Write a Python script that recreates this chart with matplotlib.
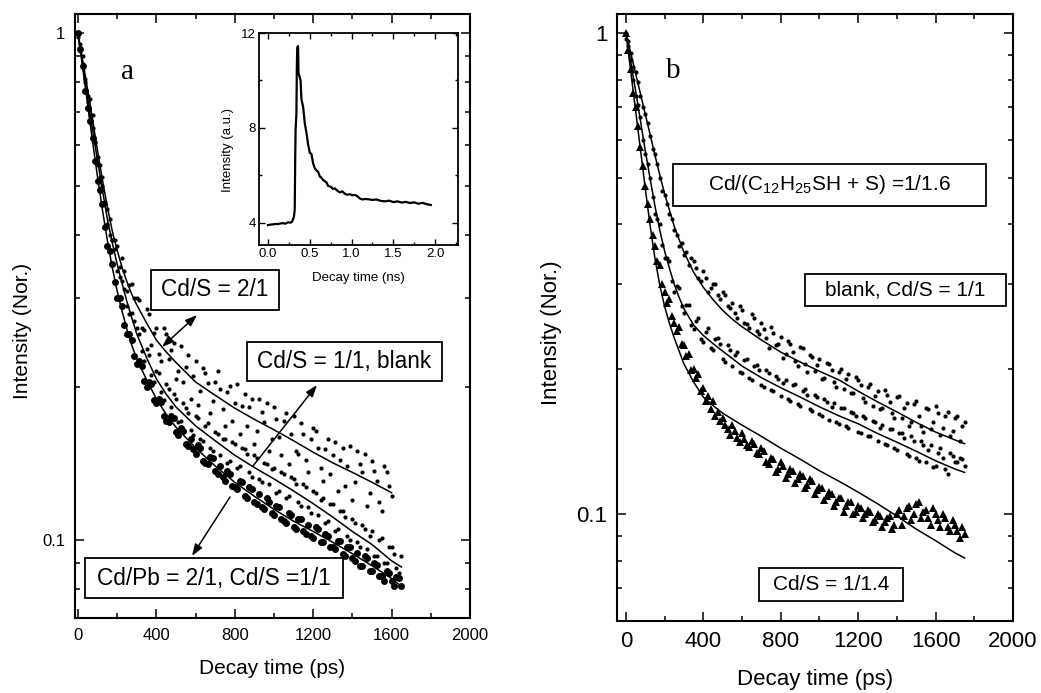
import numpy as np
import matplotlib
matplotlib.use("Agg")
import matplotlib.pyplot as plt
from matplotlib.ticker import FixedLocator, LogLocator, MultipleLocator, NullFormatter, FuncFormatter
from matplotlib.patches import Rectangle

plt.rcParams["font.family"] = ["Liberation Sans", "DejaVu Sans"]
plt.rcParams["mathtext.default"] = "regular"

# ---------------- panel a : normalized decays -----------------
# channels on the 25 ps grid and on the interleaved (12.5 ps shifted) grid
t_a21 = np.arange(0, 1601, 25)
t_a21s = np.arange(12.5, 1600, 25)
t_a = np.arange(0, 1651, 25)
t_as = np.arange(12.5, 1650, 25)

a_21 = [1.0, 0.90, 0.75, 0.69, 0.57, 0.52, 0.45, 0.39, 0.38, 0.36, 0.31, 0.32, 0.30,
        0.262, 0.285, 0.243, 0.262, 0.226, 0.255, 0.237, 0.208, 0.241, 0.219, 0.190,
        0.226, 0.197, 0.214, 0.178, 0.205, 0.199, 0.168, 0.201, 0.186, 0.162, 0.194,
        0.183, 0.155, 0.190, 0.171, 0.150, 0.183, 0.160, 0.172, 0.141, 0.176, 0.148,
        0.162, 0.136, 0.166, 0.152, 0.131, 0.158, 0.147, 0.125, 0.152, 0.140, 0.120,
        0.150, 0.136, 0.117, 0.143, 0.131, 0.114, 0.136, 0.122]
a_21s = [0.95, 0.80, 0.74, 0.61, 0.55, 0.46, 0.43, 0.39, 0.345, 0.34, 0.318, 0.30,
         0.297, 0.259, 0.279, 0.256, 0.233, 0.262, 0.228, 0.245, 0.215, 0.205, 0.232,
         0.211, 0.185, 0.218, 0.204, 0.188, 0.215, 0.181, 0.196, 0.172, 0.203, 0.184,
         0.168, 0.190, 0.164, 0.179, 0.186, 0.158, 0.173, 0.147, 0.178, 0.162, 0.150,
         0.170, 0.144, 0.158, 0.164, 0.139, 0.151, 0.135, 0.156, 0.144, 0.128, 0.153,
         0.130, 0.141, 0.148, 0.124, 0.137, 0.119, 0.140, 0.128]
a_11 = [0.98, 0.87, 0.73, 0.65, 0.55, 0.50, 0.42, 0.39, 0.34, 0.325, 0.29, 0.28, 0.262,
        0.236, 0.238, 0.212, 0.215, 0.196, 0.203, 0.183, 0.190, 0.172, 0.182, 0.165,
        0.176, 0.158, 0.168, 0.152, 0.163, 0.147, 0.158, 0.143, 0.155, 0.140, 0.151,
        0.136, 0.147, 0.132, 0.142, 0.129, 0.139, 0.125, 0.135, 0.122, 0.132, 0.119,
        0.129, 0.116, 0.125, 0.112, 0.121, 0.109, 0.118, 0.105, 0.114, 0.102, 0.110,
        0.099, 0.107, 0.096, 0.104, 0.093, 0.101, 0.090, 0.097, 0.088, 0.093]
a_11s = [0.92, 0.81, 0.69, 0.61, 0.52, 0.465, 0.40, 0.375, 0.33, 0.312, 0.279, 0.27,
         0.255, 0.226, 0.232, 0.205, 0.214, 0.189, 0.199, 0.194, 0.171, 0.186, 0.178,
         0.161, 0.174, 0.157, 0.170, 0.150, 0.162, 0.158, 0.142, 0.156, 0.139, 0.152,
         0.148, 0.133, 0.145, 0.130, 0.141, 0.138, 0.124, 0.136, 0.121, 0.133, 0.129,
         0.117, 0.127, 0.113, 0.124, 0.120, 0.108, 0.118, 0.104, 0.114, 0.111, 0.100,
         0.108, 0.097, 0.105, 0.102, 0.093, 0.100, 0.090, 0.097, 0.094, 0.086]
a_pb = [1.0, 0.86, 0.71, 0.62, 0.51, 0.46, 0.38, 0.35, 0.30, 0.29, 0.255, 0.248, 0.222,
        0.220, 0.200, 0.203, 0.186, 0.187, 0.172, 0.176, 0.163, 0.166, 0.155, 0.158,
        0.148, 0.152, 0.142, 0.146, 0.137, 0.140, 0.131, 0.135, 0.127, 0.131, 0.122,
        0.127, 0.119, 0.123, 0.115, 0.119, 0.112, 0.116, 0.109, 0.113, 0.106, 0.110,
        0.104, 0.107, 0.101, 0.105, 0.099, 0.102, 0.097, 0.0995, 0.094, 0.097, 0.092,
        0.0945, 0.089, 0.092, 0.087, 0.0895, 0.085, 0.087, 0.083, 0.0845, 0.081]
a_pbs = [0.93, 0.77, 0.67, 0.56, 0.49, 0.415, 0.372, 0.323, 0.30, 0.266, 0.255, 0.231,
         0.226, 0.206, 0.205, 0.189, 0.190, 0.176, 0.171, 0.174, 0.161, 0.164, 0.153,
         0.151, 0.154, 0.143, 0.141, 0.145, 0.135, 0.133, 0.137, 0.128, 0.126, 0.130,
         0.121, 0.126, 0.118, 0.116, 0.121, 0.113, 0.117, 0.110, 0.108, 0.112, 0.105,
         0.110, 0.103, 0.102, 0.106, 0.099, 0.103, 0.097, 0.096, 0.0995, 0.093, 0.097,
         0.091, 0.089, 0.093, 0.087, 0.090, 0.085, 0.083, 0.086, 0.081, 0.084]

# fitted decay curves, panel a
fit_a_t21 = [0, 25, 50, 75, 100, 125, 150, 175, 200, 225, 250, 275, 300, 350, 400, 450,
             500, 600, 700, 800, 900, 1000, 1100, 1200, 1300, 1400, 1500, 1600]
fit_a_21 = [1.0, 0.879, 0.771, 0.673, 0.585, 0.513, 0.454, 0.407, 0.373, 0.345, 0.323,
            0.305, 0.291, 0.268, 0.248, 0.235, 0.224, 0.205, 0.193, 0.182, 0.173, 0.165,
            0.157, 0.149, 0.142, 0.136, 0.130, 0.124]
fit_a_t = [0, 25, 50, 75, 100, 125, 150, 175, 200, 225, 250, 275, 300, 350, 400, 450,
           500, 600, 700, 800, 900, 1000, 1100, 1200, 1300, 1400, 1500, 1600, 1650]
fit_a_11 = [1.0, 0.861, 0.74, 0.643, 0.56, 0.49, 0.43, 0.386, 0.35, 0.321, 0.295, 0.274,
            0.255, 0.229, 0.208, 0.194, 0.183, 0.168, 0.157, 0.147, 0.139, 0.132, 0.125,
            0.118, 0.111, 0.104, 0.098, 0.091, 0.0885]
fit_a_pb = [1.0, 0.85, 0.72, 0.61, 0.52, 0.448, 0.39, 0.345, 0.31, 0.283, 0.26, 0.242,
            0.228, 0.207, 0.19, 0.177, 0.167, 0.152, 0.140, 0.130, 0.122, 0.115, 0.109,
            0.104, 0.099, 0.094, 0.089, 0.084, 0.081]

# ---------------- inset : raw decay -----------------
t_ns = [0.00, 0.03, 0.06, 0.09, 0.12, 0.15, 0.18, 0.21, 0.24, 0.27, 0.29, 0.31, 0.32,
        0.325, 0.33, 0.34, 0.345, 0.35, 0.36, 0.365, 0.375, 0.39, 0.40, 0.42, 0.44, 0.46,
        0.48, 0.50, 0.52, 0.54, 0.56, 0.58, 0.60, 0.62, 0.64, 0.66, 0.68, 0.70, 0.72,
        0.75, 0.78, 0.80, 0.83, 0.86, 0.89, 0.92, 0.95, 0.98, 1.01, 1.04, 1.07, 1.10,
        1.13, 1.16, 1.20, 1.25, 1.30, 1.35, 1.40, 1.45, 1.50, 1.55, 1.60, 1.65, 1.70,
        1.75, 1.80, 1.85, 1.90, 1.95]
raw_int = [3.90, 3.92, 3.93, 3.95, 3.94, 3.97, 3.98, 3.96, 4.02, 4.00, 4.05, 4.25, 4.55,
           6.5, 7.9, 8.6, 10.5, 11.4, 11.45, 10.3, 10.2, 10.0, 9.2, 8.9, 8.2, 7.8, 7.3,
           6.95, 6.9, 6.5, 6.3, 6.2, 6.15, 5.95, 5.9, 5.8, 5.75, 5.7, 5.55, 5.52, 5.42,
           5.45, 5.35, 5.28, 5.32, 5.22, 5.18, 5.20, 5.16, 5.17, 5.12, 5.02, 4.98, 5.00,
           4.99, 4.96, 4.98, 4.92, 4.90, 4.93, 4.87, 4.90, 4.85, 4.88, 4.83, 4.86, 4.80,
           4.84, 4.78, 4.75]

# ---------------- panel b : normalized decays -----------------
t_b = np.arange(0, 1751, 25)
t_bs = np.arange(12.5, 1750, 25)

b_16 = [1.0, 0.91, 0.83, 0.74, 0.68, 0.61, 0.56, 0.50, 0.46, 0.42, 0.39, 0.36, 0.345,
        0.33, 0.335, 0.31, 0.32, 0.29, 0.30, 0.285, 0.29, 0.27, 0.275, 0.255, 0.265,
        0.248, 0.26, 0.24, 0.25, 0.232, 0.245, 0.225, 0.233, 0.215, 0.226, 0.208, 0.222,
        0.205, 0.214, 0.198, 0.21, 0.192, 0.205, 0.188, 0.197, 0.182, 0.195, 0.178, 0.19,
        0.174, 0.184, 0.168, 0.18, 0.166, 0.177, 0.162, 0.175, 0.158, 0.17, 0.155, 0.172,
        0.152, 0.166, 0.150, 0.168, 0.146, 0.16, 0.145, 0.158, 0.142, 0.155]
b_16s = [0.96, 0.85, 0.79, 0.70, 0.65, 0.575, 0.535, 0.47, 0.44, 0.41, 0.38, 0.365,
         0.35, 0.34, 0.325, 0.305, 0.31, 0.295, 0.30, 0.28, 0.285, 0.268, 0.262, 0.27,
         0.25, 0.244, 0.255, 0.237, 0.242, 0.221, 0.238, 0.226, 0.211, 0.229, 0.217,
         0.203, 0.221, 0.197, 0.212, 0.204, 0.191, 0.206, 0.199, 0.184, 0.200, 0.191,
         0.178, 0.193, 0.185, 0.171, 0.186, 0.176, 0.165, 0.181, 0.171, 0.158, 0.176,
         0.166, 0.152, 0.169, 0.160, 0.148, 0.165, 0.155, 0.162, 0.151, 0.163, 0.149,
         0.160, 0.152]
b_11 = [0.97, 0.88, 0.74, 0.67, 0.56, 0.50, 0.42, 0.40, 0.34, 0.335, 0.29, 0.295, 0.262,
        0.272, 0.242, 0.255, 0.228, 0.243, 0.219, 0.232, 0.210, 0.225, 0.203, 0.217,
        0.196, 0.210, 0.190, 0.204, 0.185, 0.199, 0.181, 0.194, 0.176, 0.190, 0.172,
        0.186, 0.168, 0.182, 0.165, 0.177, 0.161, 0.173, 0.157, 0.170, 0.154, 0.166,
        0.151, 0.162, 0.148, 0.160, 0.145, 0.156, 0.142, 0.153, 0.139, 0.150, 0.136,
        0.147, 0.133, 0.145, 0.131, 0.142, 0.128, 0.139, 0.126, 0.137, 0.124, 0.134,
        0.128, 0.131, 0.126]
b_11s = [0.94, 0.80, 0.71, 0.60, 0.535, 0.455, 0.41, 0.362, 0.34, 0.305, 0.298, 0.27,
         0.272, 0.247, 0.252, 0.231, 0.239, 0.221, 0.231, 0.226, 0.207, 0.219, 0.214,
         0.197, 0.209, 0.192, 0.203, 0.199, 0.184, 0.196, 0.180, 0.191, 0.187, 0.173,
         0.185, 0.169, 0.180, 0.177, 0.164, 0.175, 0.160, 0.171, 0.167, 0.155, 0.166,
         0.152, 0.163, 0.160, 0.147, 0.158, 0.145, 0.155, 0.151, 0.140, 0.150, 0.137,
         0.147, 0.144, 0.132, 0.142, 0.129, 0.139, 0.136, 0.125, 0.134, 0.131, 0.121,
         0.132, 0.128, 0.130]
b_14 = [1.0, 0.84, 0.70, 0.58, 0.48, 0.41, 0.36, 0.33, 0.29, 0.28, 0.25, 0.245, 0.225,
        0.215, 0.20, 0.195, 0.183, 0.176, 0.172, 0.163, 0.158, 0.150, 0.153, 0.144,
        0.147, 0.139, 0.142, 0.134, 0.137, 0.128, 0.131, 0.122, 0.128, 0.119, 0.124,
        0.116, 0.121, 0.113, 0.118, 0.110, 0.114, 0.107, 0.111, 0.104, 0.108, 0.101,
        0.106, 0.100, 0.104, 0.098, 0.102, 0.096, 0.100, 0.094, 0.098, 0.093, 0.100,
        0.095, 0.103, 0.097, 0.105, 0.098, 0.102, 0.095, 0.100, 0.094, 0.098, 0.092,
        0.095, 0.089, 0.091]
b_14s = [0.92, 0.75, 0.64, 0.53, 0.44, 0.38, 0.335, 0.30, 0.275, 0.258, 0.24, 0.226,
         0.213, 0.199, 0.192, 0.180, 0.172, 0.165, 0.160, 0.156, 0.153, 0.146, 0.149,
         0.141, 0.143, 0.138, 0.140, 0.133, 0.135, 0.127, 0.130, 0.124, 0.126, 0.121,
         0.123, 0.118, 0.120, 0.115, 0.117, 0.112, 0.113, 0.109, 0.110, 0.106, 0.108,
         0.104, 0.106, 0.101, 0.103, 0.100, 0.101, 0.097, 0.099, 0.096, 0.099, 0.095,
         0.102, 0.099, 0.104, 0.100, 0.106, 0.101, 0.098, 0.103, 0.097, 0.100, 0.094,
         0.097, 0.092, 0.094]

# fitted decay curves, panel b
fit_b_t = [0, 25, 50, 75, 100, 125, 150, 175, 200, 225, 250, 275, 300, 350, 400, 450,
           500, 550, 600, 700, 800, 900, 1000, 1100, 1200, 1300, 1400, 1500, 1600, 1700,
           1750]
fit_b_16 = [1.0, 0.908, 0.824, 0.748, 0.678, 0.615, 0.557, 0.507, 0.463, 0.428, 0.396,
            0.372, 0.35, 0.318, 0.296, 0.279, 0.265, 0.254, 0.245, 0.23, 0.217, 0.207,
            0.198, 0.19, 0.18, 0.171, 0.163, 0.155, 0.148, 0.1425, 0.140]
fit_b_11 = [1.0, 0.871, 0.759, 0.658, 0.569, 0.498, 0.437, 0.389, 0.352, 0.324, 0.30,
            0.282, 0.267, 0.247, 0.235, 0.226, 0.218, 0.2104, 0.203, 0.192, 0.183, 0.175,
            0.167, 0.160, 0.154, 0.147, 0.141, 0.135, 0.129, 0.124, 0.122]
fit_b_14 = [1.0, 0.832, 0.69, 0.573, 0.475, 0.398, 0.34, 0.299, 0.27, 0.249, 0.232,
            0.218, 0.205, 0.188, 0.175, 0.168, 0.162, 0.1574, 0.153, 0.145, 0.137, 0.130,
            0.123, 0.117, 0.111, 0.105, 0.099, 0.093, 0.088, 0.083, 0.081]

# ---------------- figure -----------------
W, H = 1041, 693
fig = plt.figure(figsize=(W / 100, H / 100), dpi=100)


def fxy(x, y):
    return (x / W, 1 - y / H)


axa = fig.add_axes([75 / W, 1 - 618 / H, 395 / W, 604 / H])
axb = fig.add_axes([617 / W, 1 - 621 / H, 396 / W, 607 / H])
axi = fig.add_axes([259 / W, 1 - 245 / H, 199 / W, 212 / H])


def style_main(ax, fs, pad):
    ax.set_yscale("log")
    ax.xaxis.set_major_locator(MultipleLocator(400))
    ax.xaxis.set_minor_locator(MultipleLocator(200))
    ax.yaxis.set_major_locator(FixedLocator([0.1, 1]))
    ax.yaxis.set_minor_locator(LogLocator(base=10, subs=np.arange(2, 10)))
    ax.yaxis.set_major_formatter(FuncFormatter(lambda v, p: f"{v:g}"))
    ax.yaxis.set_minor_formatter(NullFormatter())
    ax.tick_params(which="both", direction="in", top=True, right=True, width=1.1,
                   labelsize=fs, pad=pad)
    ax.tick_params(which="major", length=6.5)
    ax.tick_params(which="minor", length=3.3)
    for s in ax.spines.values():
        s.set_linewidth(1.5)


dot = dict(color="black", mew=0, ls="none")

# panel a
axa.plot(t_a21, a_21, "o", ms=3.0, **dot)
axa.plot(t_a21s, a_21s, "o", ms=3.0, **dot)
axa.plot(t_a, a_11, "o", ms=3.0, **dot)
axa.plot(t_as, a_11s, "o", ms=3.0, **dot)
axa.plot(t_a, a_pb, "o", ms=5.0, **dot)
axa.plot(t_as, a_pbs, "o", ms=5.0, **dot)
axa.plot(fit_a_t21, fit_a_21, color="black", lw=1.1)
axa.plot(fit_a_t, fit_a_11, color="black", lw=1.1)
axa.plot(fit_a_t, fit_a_pb, color="black", lw=1.1)
axa.set_xlim(-15, 2000)
axa.set_ylim(0.0702, 1.09)
style_main(axa, 12, 7)
axa.set_xlabel("Decay time (ps)", fontsize=15, va="center")
axa.set_ylabel("Intensity (Nor.)", fontsize=15, va="center")
axa.xaxis.set_label_coords(0.5, -0.0844)
axa.yaxis.set_label_coords(-0.134, 0.475)
axa.text(128 / W, 1 - 79 / H, "a", transform=fig.transFigure, ha="center",
         va="baseline", fontsize=21, family="Liberation Serif")

# panel b
axb.plot(t_b, b_16, "o", ms=3.0, **dot)
axb.plot(t_bs, b_16s, "o", ms=3.0, **dot)
axb.plot(t_b, b_11, "o", ms=3.0, **dot)
axb.plot(t_bs, b_11s, "o", ms=3.0, **dot)
axb.plot(t_b, b_14, "^", ms=5.8, **dot)
axb.plot(t_bs, b_14s, "^", ms=5.8, **dot)
axb.plot(fit_b_t, fit_b_16, color="black", lw=1.1)
axb.plot(fit_b_t, fit_b_11, color="black", lw=1.1)
axb.plot(fit_b_t, fit_b_14, color="black", lw=1.1)
axb.set_xlim(-46, 2000)
axb.set_ylim(0.0599, 1.095)
style_main(axb, 16, 7)
axb.set_xlabel("Decay time (ps)", fontsize=16, va="center")
axb.set_ylabel("Intensity (Nor.)", fontsize=16, va="center")
axb.xaxis.set_label_coords(0.5, -0.097)
axb.yaxis.set_label_coords(-0.165, 0.475)
axb.text(673 / W, 1 - 78 / H, "b", transform=fig.transFigure, ha="center",
         va="baseline", fontsize=21, family="Liberation Serif")

# inset
axi.plot(t_ns, raw_int, color="black", lw=1.6)
axi.set_xlim(-0.108, 2.275)
axi.set_ylim(3.06, 12)
axi.xaxis.set_major_locator(MultipleLocator(0.5))
axi.xaxis.set_minor_locator(MultipleLocator(0.25))
axi.yaxis.set_major_locator(MultipleLocator(4))
axi.yaxis.set_minor_locator(MultipleLocator(2))
axi.xaxis.set_major_formatter(FuncFormatter(lambda v, p: f"{v:.1f}"))
axi.yaxis.set_major_formatter(FuncFormatter(lambda v, p: f"{v:g}"))
axi.tick_params(which="both", direction="in", top=True, right=True, width=1.0,
                labelsize=9.5, pad=2)
axi.tick_params(which="major", length=4)
axi.tick_params(which="minor", length=2.5)
for s in axi.spines.values():
    s.set_linewidth(1.3)
axi.set_xlabel("Decay time (ns)", fontsize=9.5, va="center")
axi.set_ylabel("Intensity (a.u.)", fontsize=9.5, va="center")
axi.xaxis.set_label_coords(0.5, -0.156)
axi.yaxis.set_label_coords(-0.158, 0.448)

# labelled boxes (pixel extents) and arrows
boxes = [
    ("Cd/S = 2/1", (151, 270, 279, 310), 16.3),
    ("Cd/S = 1/1, blank", (247, 342, 442, 381), 16.3),
    ("Cd/Pb = 2/1, Cd/S =1/1", (85, 558, 343, 598), 16.3),
    ("Cd/(C$_{12}$H$_{25}$SH + S) =1/1.6", (673, 164, 986, 206), 15),
    ("blank, Cd/S = 1/1", (805, 274, 1006, 306), 15),
    ("Cd/S = 1/1.4", (759, 568, 903, 601), 15),
]
for label, (x0, y0, x1, y1), fs in boxes:
    fig.patches.append(Rectangle(fxy(x0, y1), (x1 - x0) / W, (y1 - y0) / H,
                                 transform=fig.transFigure, fill=False,
                                 edgecolor="black", lw=1.3, zorder=5))
    fig.text((x0 + x1) / 2 / W, 1 - (y0 + y1) / 2 / H, label, ha="center",
             va="center", fontsize=fs, zorder=6)

arrows = [
    ((162, 347), (197, 315), "<|-|>"),
    ((253, 466), (317, 385), "-|>"),
    ((230, 497), (192, 556), "-|>"),
    ((711, 343), (767, 212), "-|>"),
    ((820, 372), (867, 308), "-|>"),
    ((863, 527), (837, 562), "-|>"),
]
for (xa, ya), (xb, yb), style in arrows:
    axa.annotate("", xy=fxy(xb, yb), xytext=fxy(xa, ya), xycoords="figure fraction",
                 textcoords="figure fraction", annotation_clip=False,
                 arrowprops=dict(arrowstyle=f"{style},head_length=0.7,head_width=0.25",
                                 color="black", lw=1.1, shrinkA=0, shrinkB=0))

fig.savefig("out.png", dpi=100)
